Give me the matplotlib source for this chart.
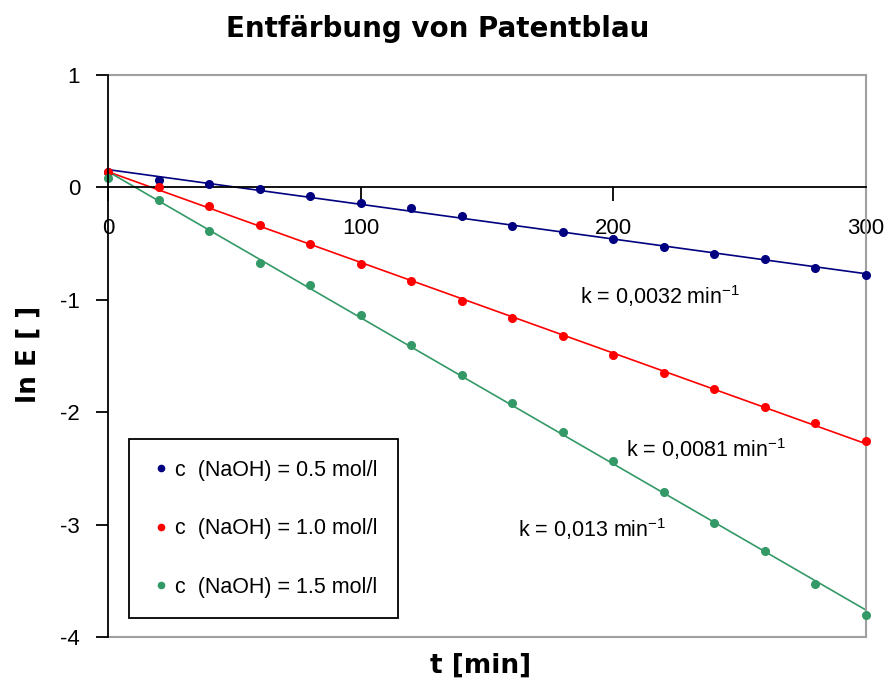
import numpy as np
import matplotlib
matplotlib.use("Agg")
import matplotlib.pyplot as plt
from matplotlib.lines import Line2D

plt.rcParams["axes.unicode_minus"] = False
plt.rcParams["mathtext.fontset"] = "custom"
plt.rcParams["mathtext.rm"] = "Liberation Sans"
plt.rcParams["mathtext.default"] = "regular"

# Messzeiten und ln E der drei Versuchsreihen
t_min = [0, 20, 40, 60, 80, 100, 120, 140, 160, 180, 200, 220, 240, 260, 280, 300]
ln_e_05 = [0.136, 0.068, 0.027, -0.012, -0.074, -0.137, -0.180, -0.255, -0.341,
           -0.397, -0.460, -0.528, -0.590, -0.640, -0.720, -0.777]
ln_e_10 = [0.140, 0.000, -0.166, -0.338, -0.504, -0.685, -0.833, -1.008, -1.166,
           -1.326, -1.489, -1.652, -1.797, -1.955, -2.097, -2.257]
ln_e_15 = [0.086, -0.116, -0.386, -0.670, -0.872, -1.136, -1.400, -1.666, -1.916,
           -2.180, -2.438, -2.710, -2.987, -3.235, -3.532, -3.800]

series_labels = ["c  (NaOH) = 0.5 mol/l", "c  (NaOH) = 1.0 mol/l", "c  (NaOH) = 1.5 mol/l"]
series_colors = ["#000080", "#ff0000", "#339966"]
k_labels = ["k = 0,0032 min$^{-1}$", "k = 0,0081 min$^{-1}$", "k = 0,013 min$^{-1}$"]
k_label_pos = [(186.8, -1.04), (205.2, -2.40), (162.4, -3.11)]

x_ticks = [0, 100, 200, 300]
y_ticks = [-4, -3, -2, -1, 0, 1]

fig = plt.figure(figsize=(8.92, 6.82), dpi=100)
ax = fig.add_axes([108 / 892, 45 / 682, 758 / 892, 562 / 682])

t = np.array(t_min, dtype=float)
handles = []
for y, col, lab in zip([ln_e_05, ln_e_10, ln_e_15], series_colors, series_labels):
    y = np.array(y)
    slope, icpt = np.polyfit(t, y, 1)
    tt = np.array([t.min(), t.max()])
    ax.plot(tt, slope * tt + icpt, color=col, lw=1.2, zorder=2, clip_on=False)
    ax.plot(t, y, "o", color=col, ms=5.5, mec=col, zorder=3, clip_on=False)
    handles.append(Line2D([], [], ls="none", marker="o", ms=4.5, color=col, label=lab))

for txt, (xp, yp) in zip(k_labels, k_label_pos):
    ax.text(xp, yp, txt, ha="left", va="baseline", fontsize=15.5,
            family="Liberation Sans", color="black")

ax.set_xlim(0, 300)
ax.set_ylim(-4, 1)
ax.set_xticks(x_ticks)
ax.set_yticks(y_ticks)
ax.set_xticklabels([str(v) for v in x_ticks])
ax.set_yticklabels([str(v) for v in y_ticks])

ax.tick_params(axis="x", direction="out", length=10, width=1.3, pad=12, color="black",
               labelsize=16, labelfontfamily="Liberation Sans")
ax.tick_params(axis="y", direction="out", length=9, width=1.3, pad=11, color="black",
               labelsize=16, labelfontfamily="Liberation Sans")

# x-Achse auf Höhe ln E = 0, Rahmen oben/rechts/unten grau
ax.spines["bottom"].set_position(("data", 0))
ax.spines["bottom"].set_color("black")
ax.spines["bottom"].set_linewidth(1.3)
ax.spines["left"].set_color("black")
ax.spines["left"].set_linewidth(1.3)
ax.spines["left"].set_zorder(4)
for s in ["top", "right"]:
    ax.spines[s].set_color("#a0a0a0")
    ax.spines[s].set_linewidth(1.5)
ax.plot([0, 1], [0, 0], transform=ax.transAxes, color="#a0a0a0", lw=1.5,
        clip_on=False, zorder=1)

ax.set_xlabel("t [min]", fontsize=19, fontweight="bold", family="DejaVu Sans")
ax.xaxis.set_label_coords(0.491, -0.064)
ax.xaxis.label.set_va("baseline")
ax.set_ylabel("ln E [ ]", fontsize=19, fontweight="bold", family="DejaVu Sans")
ax.yaxis.set_label_coords(-0.087, 0.503)

fig.text(0.491, 1 - 37 / 682, "Entfärbung von Patentblau", ha="center", va="baseline",
         fontsize=20, fontweight="bold", family="DejaVu Sans")

leg = ax.legend(handles=handles, loc="upper left",
                bbox_to_anchor=(0.0277, 0.352, 0.355, 0.0), mode="expand",
                borderaxespad=0, frameon=True, fancybox=False, framealpha=1,
                edgecolor="black", handlelength=1.1, handletextpad=0.1,
                borderpad=0.95, labelspacing=1.75,
                prop={"family": "Liberation Sans", "size": 15.5})
leg.get_frame().set_linewidth(1.3)

fig.savefig("out.png", dpi=100)
